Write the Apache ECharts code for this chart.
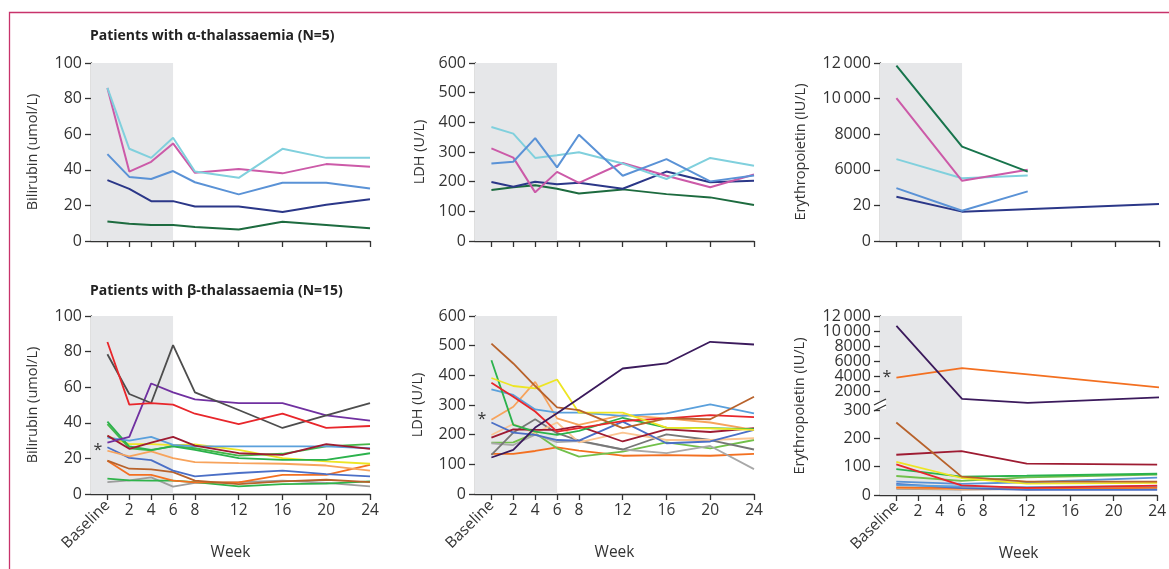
<!DOCTYPE html>
<html><head><meta charset="utf-8">
<script src="https://cdn.jsdelivr.net/npm/echarts@6/dist/echarts.min.js"></script>
<style>html,body{margin:0;padding:0;background:#fff}#c{width:1169px;height:569px}</style>
</head><body><div id="c"></div>
<script>
// ---------- categories / ticks ----------
const weeks = [0, 2, 4, 6, 8, 12, 16, 20, 24];
const epoWeeks = [0, 6, 12, 24];
const weekLabels = [2, 4, 6, 8, 12, 16, 20, 24];
const biliTicks = [0, 20, 40, 60, 80, 100];
const ldhTicks = [0, 100, 200, 300, 400, 500, 600];
const epoTopTickLabels = ['0', '20', '6000', '8000', '10\u2009000', '12\u2009000'];
const epoBetaHighTicks = [2000, 4000, 6000, 8000, 10000, 12000];
const epoBetaHighLabelsA = [2000, 6000, 10000];
const epoBetaHighLabelsB = [4000, 8000, 12000];
const epoBetaLowTicks = [0, 100, 200, 300];

// ---------- alpha-thalassaemia: bilirubin ----------
const biliA_cyan    = [86, 51.8, 46.7, 58, 39, 35.5, 51.8, 46.7, 46.7];
const biliA_magenta = [86, 39, 44.5, 54.8, 38.3, 40.4, 38, 43.2, 41.7];
const biliA_blue    = [48.8, 36, 34.8, 39.3, 33, 26.2, 32.7, 32.7, 29.5];
const biliA_navy    = [34.2, 29.3, 22.4, 22.4, 19.4, 19.4, 16.3, 20.4, 23.4];
const biliA_green   = [11, 9.7, 9, 9, 7.9, 6.5, 10.8, 9, 7.1];
// ---------- alpha: LDH ----------
const ldhA_cyan    = [384, 362, 280, 289, 299, 261, 209, 280, 254];
const ldhA_blue    = [261, 267, 347, 248, 358, 220, 276, 201, 221];
const ldhA_magenta = [312, 281, 164, 233, 196, 263, 220, 181, 224];
const ldhA_navy    = [199, 183, 200, 191, 196, 176, 234, 198, 203];
const ldhA_green   = [172, 181, 188, 176, 160, 174, 158, 147, 121];
// ---------- alpha: erythropoietin (weeks 0, 6, 12, 24; axis units as printed) ----------
const epoA_green   = [11850, 7300, 5900, null];
const epoA_magenta = [10020, 5380, 6000, null];
const epoA_cyan    = [6600, 5530, 5680, null];
const epoA_blue    = [4970, 3700, 4790, null];
const epoA_navy    = [4490, 3650, null, 4080];

// ---------- beta-thalassaemia: bilirubin ----------
const biliB_red       = [85.4, 50.2, 51, 50.2, 45.1, 39.2, 45.1, 37.1, 38.2];
const biliB_darkgrey  = [78.5, 56.2, 51.1, 83.6, 57.1, 47.2, 37.1, 44.2, 51.1];
const biliB_purple    = [28.9, 32.1, 62.1, 57.1, 53.2, 51.1, 51.1, 44.2, 41.2];
const biliB_lightblue = [31.7, 30, 32.1, 27.6, 26.7, 26.7, 26.7, 26.7, 25.7];
const biliB_darkred   = [32.8, 25.4, 28.9, 32.1, 27.2, 22.9, 22, 28, 25.4];
const biliB_greenA    = [40.7, 26.7, 24.8, 26.7, 24.8, 20.1, 19.2, 19.2, 22.9];
const biliB_greenB    = [39.2, 25.7, 24.5, 27, 25.7, 21.6, 22.6, 26.7, 28];
const biliB_yellow    = [32.5, 28, 28, 27.5, 27.8, 24.8, 20.1, 18.3, 17];
const biliB_peach     = [24.3, 21.1, 23.9, 20.1, 17.9, 17.4, 17, 16, 13.1];
const biliB_bluemed   = [26.3, 20.3, 19, 13.1, 9.9, 11.8, 13.1, 11.2, 9.9];
const biliB_brown     = [18.8, 14.2, 13.8, 12.3, 7.5, 5.6, 7.1, 8, 6.7];
const biliB_orange    = [18.7, 10.8, 10.8, 7.5, 6.5, 6.5, 10.8, 10.8, 16.4];
const biliB_greenC    = [8.6, 7.6, 7.5, 7.5, 6.7, 4.3, 5.6, 5.8, 7.1];
const biliB_grey      = [6.7, 7.6, 9.3, 4.1, 6.2, 6.7, 7.5, 6.2, 4.3];
// ---------- beta: LDH ----------
const ldhB_darkpurple = [123, 149, 224, 272, 322, 423, 440, 513, 504];
const ldhB_brown      = [507, 440, 364, 292, 283, 222, 255, 252, 328];
const ldhB_green      = [451, 233, 210, 199, 213, 257, 224, 222, 219];
const ldhB_yellow     = [391, 364, 356, 386, 274, 274, 224, 221, 216];
const ldhB_red        = [375, 328, 278, 210, 222, 246, 255, 266, 259];
const ldhB_lightblue  = [353, 334, 285, 274, 274, 263, 272, 302, 272];
const ldhB_peach      = [250, 294, 378, 255, 233, 266, 255, 241, 216];
const ldhB_bluemed    = [241, 207, 199, 182, 180, 244, 171, 177, 216];
const ldhB_darkred    = [190, 218, 216, 216, 229, 177, 218, 209, 222];
const ldhB_lightpeach = [199, 236, 205, 241, 174, 207, 182, 182, 188];
const ldhB_greymed    = [132, 207, 252, 205, 180, 150, 201, 182, 150];
const ldhB_lightgrey  = [171, 165, 200, 175, 178, 150, 138, 162, 84];
const ldhB_lightgreen = [173, 174, 205, 154, 126, 143, 174, 154, 182];
const ldhB_orange     = [135, 135, 145, 157, 146, 129, 131, 129, 135];
// ---------- beta: erythropoietin (weeks 0, 6, 12, 24) ----------
const epoB_darkpurple = [10670, 940, 410, 1160];
const epoB_orange     = [3770, 5050, 4210, 2490];
const epoB_brown      = [256, 65, 47, 47];
const epoB_darkred    = [142, 155, 111, 107];
const epoB_yellow     = [117, 60, 40, 43];
const epoB_red        = [108, 34, 25, 33];
const epoB_green      = [91, 65, 68, 75];
const epoB_lightgreen = [67, 50, 62, 72];
const epoB_blue       = [47, 39, 45, 61];
const epoB_lightblue  = [35, 30, 28, 32];
const epoB_navy       = [39, 24, 18, 18];
const epoB_orangeLow  = [27, 24, 20, 26];
const epoB_peach      = [24, 20, 22, 28];
const epoB_grey       = [22, 19, 21, 22];

// ---------- styling ----------
const FONT = 'Open Sans';
const AX = '#333';
const TXT = '#333';
const SHADE = '#e6e7e9';
const XMIN = -1.5, XMAX = 24;
const C = {
  cyan:'#80d0dd', magenta:'#cc5aa8', blueA:'#5a92d6', navyA:'#2b3788', greenDk:'#1d6b3f', greenTeal:'#17744c',
  red:'#e8262b', darkgrey:'#4d4d4d', purple:'#7030a0', lightblue:'#5aa0dc', darkred:'#9e1b32',
  greenA:'#2bb24c', greenB:'#45b649', yellow:'#ede523', peach:'#f7a35c', bluemed:'#4b6fc6',
  brown:'#b8622b', orange:'#f37021', greenC:'#2fb34a', grey:'#9d9d9d', darkpurple:'#3b1a5c',
  lightpeach:'#fbc592', greymed:'#777777', lightgrey:'#a8a8a8', lightgreen:'#72c04a', navy:'#2b3788'
};

const grids = [
  {left:91, top:63, width:279, height:178},
  {left:475, top:63, width:279, height:178},
  {left:880, top:63, width:279, height:178},
  {left:91, top:316, width:279, height:178},
  {left:475, top:316, width:279, height:178},
  {left:880, top:316, width:279, height:94},
  {left:880, top:410, width:279, height:85}
];

const lineAx = {lineStyle:{color:AX, width:1.3}, onZero:false};
const tickAx = {length:6, lineStyle:{color:AX, width:1.3}};
const xLbl = {color:TXT, fontFamily:FONT, fontSize:15.5};
const yLbl = {color:TXT, fontFamily:FONT, fontSize:16};

const xAxes = [];
for (let i = 0; i < 7; i++) {
  const bottom = (i === 3 || i === 4 || i === 6);
  xAxes.push({
    type:'value', gridIndex:i, position:'bottom', min:XMIN, max:XMAX, show: i !== 5,
    splitLine:{show:false},
    axisLine:lineAx,
    axisTick:Object.assign({customValues:weeks}, tickAx),
    axisLabel: bottom ? Object.assign({customValues:weekLabels, margin:9}, xLbl) : {show:false},
    name: bottom ? 'Week' : '', nameLocation:'middle', nameGap:51,
    nameTextStyle:{color:TXT, fontFamily:FONT, fontSize:15.5}
  });
}
// extra axes carrying the rotated "Baseline" label
[3, 4, 6].forEach(g => {
  xAxes.push({
    type:'value', gridIndex:g, position:'bottom', offset:0, min:XMIN, max:XMAX,
    splitLine:{show:false}, axisLine:{show:false, onZero:false}, axisTick:{show:false},
    axisLabel:Object.assign({customValues:[0], formatter:() => 'Baseline', rotate:45, margin:9}, xLbl)
  });
});

const nameStyle = {color:TXT, fontFamily:FONT, fontSize:14.5};
function yAx(gi, o) {
  return Object.assign({
    type:'value', gridIndex:gi, position:'left', splitLine:{show:false},
    axisLine:lineAx, axisTick:tickAx,
    axisLabel:Object.assign({margin:9}, yLbl),
    nameLocation:'middle', nameTextStyle:nameStyle
  }, o);
}
const fmtThousands = v => v >= 10000 ? String(v).replace(/(\d+)(\d{3})$/, '$1\u2009$2') : String(v);
const yAxes = [
  yAx(0, {min:0, max:100, interval:20, name:'Bilirubin (umol/L)', nameGap:51}),
  yAx(1, {min:0, max:600, interval:100, name:'LDH (U/L)', nameGap:48}),
  yAx(2, {min:2000, max:12000, interval:2000, name:'Erythropoietin (IU/L)', nameGap:72,
          axisLabel:Object.assign({margin:9, formatter:v => epoTopTickLabels[Math.round((v - 2000) / 2000)]}, yLbl)}),
  yAx(3, {min:0, max:100, interval:20, name:'Bilirubin (umol/L)', nameGap:51}),
  yAx(4, {min:0, max:600, interval:100, name:'LDH (U/L)', nameGap:50}),
  yAx(5, {min:-533, max:12000,
          axisTick:Object.assign({customValues:epoBetaHighTicks}, tickAx),
          axisLabel:Object.assign({}, yLbl, {customValues:epoBetaHighLabelsA, margin:9, formatter:fmtThousands})}),
  yAx(6, {min:0, max:300, interval:100}),
  // second label carrier for the upper broken segment (labels alternate between two axes)
  yAx(5, {min:-533, max:12000, offset:0, axisLine:{show:false, onZero:false}, axisTick:{show:false},
          axisLabel:Object.assign({}, yLbl, {customValues:epoBetaHighLabelsB, margin:9, formatter:fmtThousands})})
];

const series = [];
function add(gi, xs, ys, color, width, star) {
  const data = xs.map((x, i) => [x, ys[i]]);
  const s = {
    type:'line', xAxisIndex:gi, yAxisIndex:gi, data,
    symbol:'none', connectNulls:true,
    lineStyle:{color, width:width || 1.8}, itemStyle:{color},
    silent:true, animation:false
  };
  if (star) {
    s.markPoint = {
      symbol:'circle', symbolSize:2, itemStyle:{color:'rgba(0,0,0,0)'}, silent:true,
      data:[{coord:[xs[0], ys[0]]}],
      label:{show:true, formatter:'*', position:'left', distance:4, color:TXT, fontFamily:FONT, fontSize:16}
    };
  }
  if (!series.some(q => q.xAxisIndex === gi)) {
    s.markArea = {silent:true, itemStyle:{color:SHADE}, data:[[{xAxis:XMIN}, {xAxis:6}]]};
  }
  series.push(s);
}

// alpha
add(0, weeks, biliA_green, C.greenDk, 2);
add(0, weeks, biliA_navy, C.navyA, 2);
add(0, weeks, biliA_blue, C.blueA, 2);
add(0, weeks, biliA_magenta, C.magenta, 2);
add(0, weeks, biliA_cyan, C.cyan, 2);

add(1, weeks, ldhA_green, C.greenDk, 2);
add(1, weeks, ldhA_navy, C.navyA, 2);
add(1, weeks, ldhA_magenta, C.magenta, 2);
add(1, weeks, ldhA_cyan, C.cyan, 2);
add(1, weeks, ldhA_blue, C.blueA, 2);

add(2, epoWeeks, epoA_navy, C.navyA, 2);
add(2, epoWeeks, epoA_blue, C.blueA, 2);
add(2, epoWeeks, epoA_cyan, C.cyan, 2);
add(2, epoWeeks, epoA_magenta, C.magenta, 2);
add(2, epoWeeks, epoA_green, C.greenTeal, 2);

// beta bilirubin
add(3, weeks, biliB_grey, C.grey);
add(3, weeks, biliB_greenC, C.greenC);
add(3, weeks, biliB_orange, C.orange);
add(3, weeks, biliB_brown, C.brown);
add(3, weeks, biliB_bluemed, C.bluemed);
add(3, weeks, biliB_peach, C.peach, 1.8, true);
add(3, weeks, biliB_yellow, C.yellow);
add(3, weeks, biliB_greenB, C.greenB);
add(3, weeks, biliB_greenA, C.greenA);
add(3, weeks, biliB_lightblue, C.lightblue);
add(3, weeks, biliB_darkred, C.darkred);
add(3, weeks, biliB_purple, C.purple);
add(3, weeks, biliB_darkgrey, C.darkgrey);
add(3, weeks, biliB_red, C.red);

// beta LDH
add(4, weeks, ldhB_orange, C.orange);
add(4, weeks, ldhB_lightgreen, C.lightgreen);
add(4, weeks, ldhB_lightgrey, C.lightgrey);
add(4, weeks, ldhB_greymed, C.greymed);
add(4, weeks, ldhB_lightpeach, C.lightpeach);
add(4, weeks, ldhB_bluemed, C.bluemed);
add(4, weeks, ldhB_darkred, C.darkred);
add(4, weeks, ldhB_peach, C.peach, 1.8, true);
add(4, weeks, ldhB_lightblue, C.lightblue);
add(4, weeks, ldhB_green, C.greenA);
add(4, weeks, ldhB_red, C.red);
add(4, weeks, ldhB_yellow, C.yellow);
add(4, weeks, ldhB_brown, C.brown);
add(4, weeks, ldhB_darkpurple, C.darkpurple);

// beta EPO (broken axis)
add(5, epoWeeks, epoB_orange, C.orange, 1.8, true);
add(5, epoWeeks, epoB_darkpurple, C.darkpurple);
add(6, epoWeeks, epoB_grey, C.grey);
add(6, epoWeeks, epoB_peach, C.peach);
add(6, epoWeeks, epoB_orangeLow, C.orange);
add(6, epoWeeks, epoB_navy, C.bluemed);
add(6, epoWeeks, epoB_lightblue, C.lightblue);
add(6, epoWeeks, epoB_blue, C.blueA);
add(6, epoWeeks, epoB_lightgreen, C.lightgreen);
add(6, epoWeeks, epoB_green, C.greenA);
add(6, epoWeeks, epoB_red, C.red);
add(6, epoWeeks, epoB_yellow, C.yellow);
add(6, epoWeeks, epoB_darkred, C.darkred);
add(6, epoWeeks, epoB_brown, C.brown);

const titleStyle = {color:'#222', fontFamily:FONT, fontSize:14, fontWeight:'bold'};
const option = {
  animation:false,
  backgroundColor:'#fff',
  title:[
    {text:'Patients with \u03b1-thalassaemia (N=5)', left:90, top:29, padding:0, textStyle:titleStyle},
    {text:'Patients with \u03b2-thalassaemia (N=15)', left:90, top:284, padding:0, textStyle:titleStyle}
  ],
  grid:grids,
  xAxis:xAxes,
  yAxis:yAxes,
  series,
  graphic:[
    {type:'rect', shape:{x:9.5, y:12.5, width:1300, height:700}, style:{fill:'none', stroke:'#c8336b', lineWidth:1.3}, silent:true},
    {type:'text', x:800, y:406, rotation:Math.PI / 2,
      style:{text:'Erythropoietin (IU/L)', fill:TXT, font:'14.5px "Open Sans"', align:'center', verticalAlign:'middle',
             textAlign:'center', textVerticalAlign:'middle'}},
    {type:'rect', shape:{x:874, y:401, width:12, height:8}, style:{fill:'#fff'}, z:100},
    {type:'line', shape:{x1:874, y1:405, x2:886, y2:399}, style:{stroke:AX, lineWidth:1.3}, z:101},
    {type:'line', shape:{x1:874, y1:411, x2:886, y2:405}, style:{stroke:AX, lineWidth:1.3}, z:101}
  ]
};
const chart = echarts.init(document.getElementById('c'));
chart.setOption(option);
</script></body></html>
